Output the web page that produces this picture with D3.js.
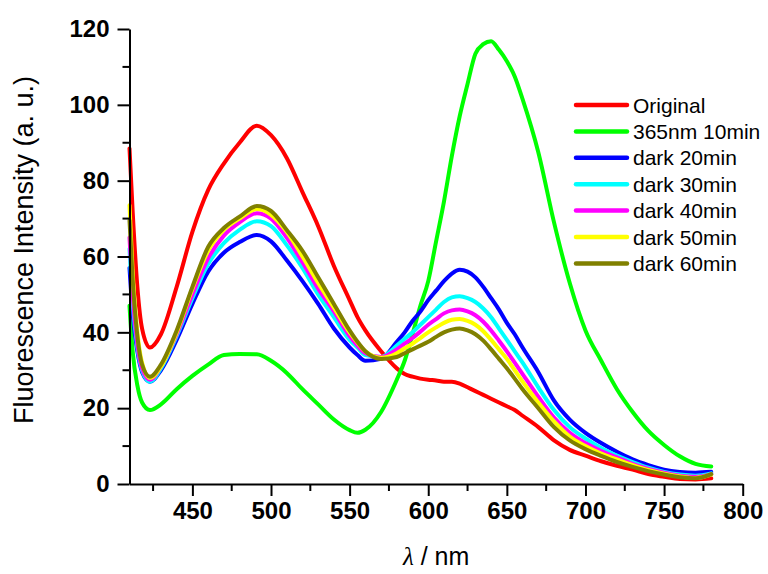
<!DOCTYPE html>
<html>
<head>
<meta charset="utf-8">
<script src="https://cdn.jsdelivr.net/npm/d3@7"></script>
<style>
  body { margin: 0; background: #fff; }
  svg { display: block; font-family: Arial, "Liberation Sans", sans-serif; }
</style>
</head>
<body>
<div id="chart"></div>
<script>
// wavelength grid (nm) shared by every spectrum
const wavelengths = [410, 412, 415, 418, 423, 430, 440, 450, 460, 470, 480, 491, 500, 510, 520, 530, 540, 550, 555, 560,
  570, 580, 585, 590, 595, 600, 605, 610, 615, 620, 625, 630, 635, 640, 645, 650, 655, 660, 670, 680,
  690, 700, 710, 720, 730, 740, 750, 760, 770, 780];

const original = [88.5, 72, 52, 41, 36, 39.5, 52, 66.5, 77.5, 84.5, 90, 94.5, 92, 86, 77, 68, 57.5, 48.5, 44, 40.5,
  35, 30.5, 29, 28.3, 27.8, 27.5, 27.3, 27, 27, 26.5, 25.5, 24.5, 23.5, 22.5, 21.5, 20.5, 19.5, 18, 15, 11.5,
  9, 7.5, 6, 4.8, 3.8, 2.6, 1.9, 1.3, 1.2, 1.5];
const uv10 = [47, 35, 26, 21.5, 19.5, 21, 25, 28.5, 31.5, 34, 34.3, 34.2, 32.5, 29.3, 25, 21, 17, 14.2, 13.5, 14.3,
  19, 27.5, 32.5, 39.5, 47, 53.5, 64, 74.5, 86.5, 97, 105.5, 113.5, 116, 116.8, 114.5, 111.5, 107.5, 101.5, 87.5, 69,
  53, 40.5, 32.5, 25, 19, 14, 10.3, 7.3, 5.3, 4.6];
const dark20 = [57, 45, 35, 29.5, 27, 30, 38, 47.5, 56, 61, 63.8, 65.7, 64, 59, 53.5, 47.5, 41, 36, 34, 32.5,
  33, 37.5, 40, 43, 45.5, 48.5, 51, 53.5, 55.5, 56.5, 56, 54.5, 52, 49, 46, 42.5, 39.5, 36, 29.5, 22,
  17, 13.5, 10.8, 8.5, 6.5, 5, 3.8, 3.2, 3, 3.2];
const dark30 = [62, 48, 36, 30, 27, 30.5, 39, 49, 58, 63.5, 67, 69.3, 68, 63, 57, 50, 44, 38, 36, 34,
  33.5, 36.5, 38.3, 40, 42, 44, 46, 48, 49.2, 49.5, 49, 48, 46.3, 44, 41, 38, 35, 32, 25.5, 19.5,
  15, 12, 9.5, 7.5, 5.8, 4.3, 3.2, 2.5, 2.2, 2.8];
const dark40 = [65, 50, 37, 30.5, 27.5, 31, 39.5, 50, 59.5, 65.5, 69, 71.4, 70, 65, 58.5, 51.5, 45.5, 39, 36.5, 34.5,
  33.5, 35.5, 37, 38.5, 40.2, 42, 43.5, 45, 45.8, 46, 45.5, 44.5, 42.8, 40.5, 37.8, 35, 32, 29, 23, 17.5,
  13.5, 10.8, 8.7, 7, 5.3, 4, 3, 2.2, 1.9, 2.6];
const dark50 = [73.5, 56, 40, 32, 28, 31, 40, 51.5, 61.5, 67, 70, 72.5, 71, 66.5, 60, 53, 46.5, 40, 37.3, 35,
  33.3, 34.5, 35.8, 37, 38.5, 40, 41.3, 42.5, 43.3, 43.5, 43, 42, 40.3, 38, 35.5, 33, 30, 27, 21.5, 16.5,
  12.5, 10, 8, 6.5, 5, 3.7, 2.7, 2, 1.6, 2.5];
const dark60 = [69.5, 54, 39, 31.5, 28.3, 31.5, 40.5, 52, 62.5, 67.5, 70.5, 73.3, 72, 67, 61.5, 54.5, 47.5, 40.5, 37.5, 35,
  33, 33.5, 34.5, 35.5, 36.5, 37.5, 38.8, 40, 40.7, 41, 40.5, 39.5, 37.8, 35.5, 33, 30.5, 27.8, 25, 20, 15,
  11.5, 9.2, 7.4, 5.8, 4.5, 3.4, 2.5, 1.8, 1.5, 2.6];

const seriesNames = ["Original", "365nm 10min", "dark 20min", "dark 30min", "dark 40min", "dark 50min", "dark 60min"];
const seriesColors = ["#ff0000", "#00ff00", "#0000ff", "#00ffff", "#ff00ff", "#ffff00", "#808000"];
const seriesValues = [original, uv10, dark20, dark30, dark40, dark50, dark60];

const xTicks = [450, 500, 550, 600, 650, 700, 750, 800];
const yTicks = [0, 20, 40, 60, 80, 100, 120];

const width = 768, height = 574;
const margin = { top: 29, right: 25.3, bottom: 90, left: 129.5 };

const svg = d3.select("#chart").append("svg")
  .attr("width", width)
  .attr("height", height);

const x = d3.scaleLinear().domain([410, 800]).range([margin.left, width - margin.right]);
const y = d3.scaleLinear().domain([0, 120]).range([height - margin.bottom, margin.top]);

// curves
const line = d3.line()
  .x((d, i) => x(wavelengths[i]))
  .y(d => y(d))
  .curve(d3.curveMonotoneX);

svg.append("g")
  .selectAll("path")
  .data(seriesValues)
  .enter()
  .append("path")
  .attr("d", d => line(d))
  .attr("fill", "none")
  .attr("stroke", (d, i) => seriesColors[i])
  .attr("stroke-width", 4)
  .attr("stroke-linejoin", "round")
  .attr("stroke-linecap", "round");

// minor ticks added by hand, majors drawn by the axis
const xMinor = d3.range(425, 800, 50);
const yMinor = d3.range(10, 120, 20);

const xAxisG = svg.append("g")
  .attr("transform", `translate(0,${y(0)})`)
  .call(d3.axisBottom(x).tickValues(xTicks).tickSize(12).tickPadding(6).tickSizeOuter(0));

xAxisG.selectAll(".minor")
  .data(xMinor)
  .enter()
  .append("line")
  .attr("class", "minor")
  .attr("x1", d => x(d)).attr("x2", d => x(d))
  .attr("y1", 0).attr("y2", 7)
  .attr("stroke", "#000").attr("stroke-width", 2);

const yAxisG = svg.append("g")
  .attr("transform", `translate(${x(410)},0)`)
  .call(d3.axisLeft(y).tickValues(yTicks).tickSize(12).tickPadding(8).tickSizeOuter(0));

yAxisG.selectAll(".minor")
  .data(yMinor)
  .enter()
  .append("line")
  .attr("class", "minor")
  .attr("x1", 0).attr("x2", -7)
  .attr("y1", d => y(d)).attr("y2", d => y(d))
  .attr("stroke", "#000").attr("stroke-width", 2);

[xAxisG, yAxisG].forEach(g => {
  g.select(".domain").attr("stroke", "#000").attr("stroke-width", 2);
  g.selectAll(".tick line").attr("stroke", "#000").attr("stroke-width", 2);
  g.selectAll(".tick text")
    .attr("fill", "#000")
    .attr("font-family", "Arial, 'Liberation Sans', sans-serif")
    .attr("font-size", 24)
    .attr("font-weight", "bold");
});

// axis titles
svg.append("text")
  .attr("transform", `translate(33,250) rotate(-90)`)
  .attr("text-anchor", "middle")
  .attr("font-size", 27)
  .attr("fill", "#000")
  .text("Fluorescence Intensity (a. u.)");

const xt = svg.append("text")
  .attr("x", (x(410) + x(800)) / 2)
  .attr("y", 565)
  .attr("text-anchor", "middle")
  .attr("font-size", 25)
  .attr("fill", "#000");
xt.append("tspan").attr("font-style", "italic").attr("font-family", "'Times New Roman', 'Liberation Serif', serif").text("λ");
xt.append("tspan").text(" / nm");

// legend
const legend = svg.append("g").attr("transform", "translate(576,105)");
const rows = legend.selectAll("g")
  .data(seriesNames)
  .enter()
  .append("g")
  .attr("transform", (d, i) => `translate(0,${i * 26.4})`);

rows.append("line")
  .attr("x1", 0).attr("x2", 51)
  .attr("y1", 0).attr("y2", 0)
  .attr("stroke", (d, i) => seriesColors[i])
  .attr("stroke-width", 4.5)
  .attr("stroke-linecap", "round");

rows.append("text")
  .attr("x", 57)
  .attr("y", 7.5)
  .attr("font-size", 21)
  .attr("fill", "#000")
  .text(d => d);
</script>
</body>
</html>
